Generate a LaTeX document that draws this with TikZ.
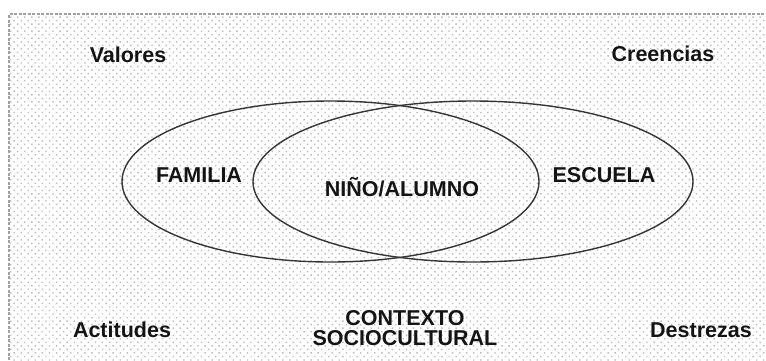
\documentclass[tikz,border=0pt]{standalone}
\usepackage{fontspec}
\setmainfont{Liberation Sans}
\usetikzlibrary{shapes.geometric,patterns.meta}
\definecolor{inkc}{HTML}{141414}
\definecolor{linec}{HTML}{353535}
\definecolor{framec}{HTML}{A0A0A0}
\definecolor{dotc}{HTML}{BDBDBD}
\tikzset{
  lbl/.style={font=\fontsize{21.5}{20}\selectfont\bfseries, text=inkc, inner sep=0pt, align=center},
  setshape/.style={ellipse, draw=linec, line width=1.4pt, inner sep=0pt, minimum height=161pt},
}
\begin{document}
\begin{tikzpicture}[x=1pt,y=-1pt]
\useasboundingbox (0,0) rectangle (766,360);
\fill[white] (0,0) rectangle (766,360);
\fill[pattern={Dots[distance=5pt,angle=45,radius=1pt]}, pattern color=dotc] (9,14) rectangle (766,360);
\draw[framec, line width=2pt, dash pattern=on 3pt off 1.5pt] (9,360) -- (9,14) -- (766,14);
% sets
\node[setshape, minimum width=417pt] (famset) at (330.5,181.5) {};
\node[setshape, minimum width=440pt] (escset) at (473,181.5) {};
% labels
\node[lbl] (valores) at (128,55) {Valores};
\node[lbl] (creencias) at (663,54) {Creencias};
\node[lbl] (actitudes) at (122,330) {Actitudes};
\node[lbl] (destrezas) at (701,330) {Destrezas};
\node[lbl] (contexto) at (405,328) {CONTEXTO\\SOCIOCULTURAL};
\node[lbl] (familia) at (199,175) {FAMILIA};
\node[lbl] (escuela) at (604,175) {ESCUELA};
\node[lbl] (nino) at (402,187) {NIÑO/ALUMNO};
\end{tikzpicture}
\end{document}
